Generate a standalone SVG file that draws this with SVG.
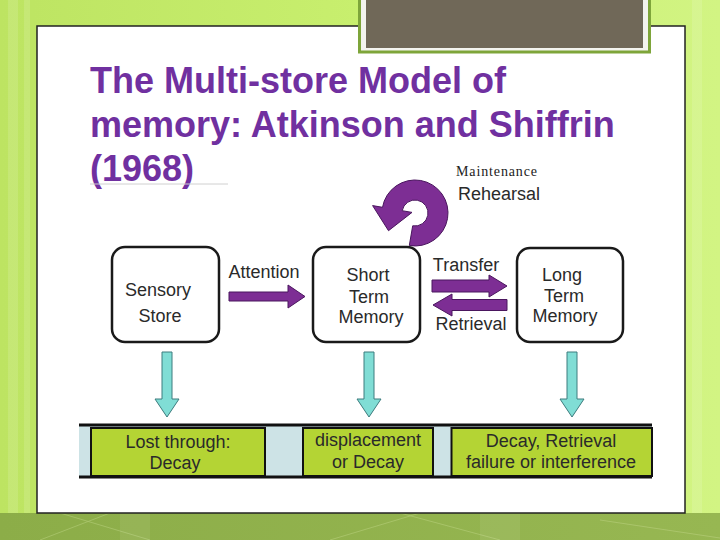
<svg xmlns="http://www.w3.org/2000/svg" width="720" height="540" viewBox="0 0 720 540">
<defs>
<linearGradient id="bg" x1="0" y1="0" x2="1" y2="0">
<stop offset="0" stop-color="#bde462"/>
<stop offset="0.5" stop-color="#c8ef6e"/>
<stop offset="1" stop-color="#d2f483"/>
</linearGradient>
<linearGradient id="band" x1="0" y1="0" x2="1" y2="0">
<stop offset="0" stop-color="#8cad48"/>
<stop offset="1" stop-color="#97b752"/>
</linearGradient>
<style>
.title{font-family:"Liberation Sans",Arial,sans-serif;font-weight:bold;font-size:36px;fill:#7030a0}
.hand{font-family:"Liberation Sans",Arial,sans-serif;font-size:18px;fill:#2a2a2a;text-anchor:middle}
.node{fill:#fff;stroke:#1a1a1a;stroke-width:2.5}
.parr{fill:#7d2e94;stroke:#4a165e;stroke-width:1}
.carr{fill:#80ddd5;stroke:#3d7c7e;stroke-width:1}
.loss{fill:#b4d434;stroke:#111;stroke-width:2}
</style>
</defs>
<rect x="0" y="0" width="720" height="540" fill="url(#bg)"/>
<g fill="#ffffff" opacity="0.12">
<rect x="8" y="0" width="10" height="540"/>
<rect x="24" y="0" width="6" height="540"/>
<rect x="692" y="0" width="10" height="540"/>
</g>
<rect x="0" y="513" width="720" height="27" fill="url(#band)"/>
<g stroke="#c8dd90" stroke-width="0.8" opacity="0.5" fill="none">
<line x1="40" y1="540" x2="110" y2="513"/>
<line x1="60" y1="513" x2="150" y2="540"/>
<line x1="330" y1="540" x2="420" y2="513"/>
<line x1="400" y1="513" x2="500" y2="540"/>
<line x1="600" y1="520" x2="720" y2="538"/>
</g>
<g fill="#ffffff" opacity="0.07">
<rect x="120" y="513" width="30" height="27"/>
<rect x="480" y="513" width="40" height="27"/>
</g>
<rect x="37" y="26" width="648" height="487" fill="#ffffff" stroke="#222" stroke-width="1.5"/>
<g id="header-block">
<rect x="359.5" y="-5" width="290" height="57" fill="#f3f3ee" stroke="#7ea53a" stroke-width="3"/>
<rect x="366" y="0" width="277" height="48" fill="#706858"/>
</g>
<g id="title">
<text class="title" x="90" y="93">The Multi-store Model of</text>
<text class="title" x="90" y="137">memory: Atkinson and Shiffrin</text>
<text class="title" x="90" y="181">(1968)</text>
<line x1="90" y1="184" x2="228" y2="184" stroke="#d0d0d0" stroke-width="1"/>
</g>
<g id="connectors">
<path id="rehearsal-loop" class="parr" d="M409.3,245.5 A33,33 0 1 0 382.5,207.3 L372.6,205.6 L388.5,230.7 L412,212.4 L402.2,210.7 A13,13 0 1 1 412.7,225.8 Z"/>
<path id="attention-arrow" class="parr" d="M229,292 L288,292 L288,285 L305,296.5 L288,308 L288,301 L229,301 Z"/>
<path id="transfer-arrow" class="parr" d="M432,280 L489,280 L489,275 L507,286 L489,297 L489,292 L432,292 Z"/>
<path id="retrieval-arrow" class="parr" d="M507,299.5 L452,299.5 L452,294 L433,305 L452,316 L452,310.5 L507,310.5 Z"/>
<path id="down-1" class="carr" d="M162,352 L172,352 L172,399 L179,399 L167,417 L155,399 L162,399 Z"/>
<path id="down-2" class="carr" d="M364,352 L374,352 L374,399 L381,399 L369,417 L357,399 L364,399 Z"/>
<path id="down-3" class="carr" d="M567,352 L577,352 L577,399 L584,399 L572,417 L560,399 L567,399 Z"/>
</g>
<g id="connector-labels">
<text x="456" y="176" textLength="81" style="font-family:'Liberation Serif','Times New Roman',serif;font-size:14px;fill:#222">Maintenance</text>
<text class="hand" x="499" y="200">Rehearsal</text>
<text class="hand" x="264" y="278">Attention</text>
<text class="hand" x="466" y="271">Transfer</text>
<text class="hand" x="471" y="330">Retrieval</text>
</g>
<g id="sensory-store">
<rect class="node" x="112" y="247" width="107" height="95" rx="13"/>
<text class="hand" x="158" y="296">Sensory</text>
<text class="hand" x="160" y="322">Store</text>
</g>
<g id="short-term-memory">
<rect class="node" x="313" y="247" width="107" height="95" rx="13"/>
<text class="hand" x="368" y="281">Short</text>
<text class="hand" x="369" y="303">Term</text>
<text class="hand" x="371" y="323">Memory</text>
</g>
<g id="long-term-memory">
<rect class="node" x="517" y="248" width="106" height="94" rx="13"/>
<text class="hand" x="562" y="281">Long</text>
<text class="hand" x="564" y="302">Term</text>
<text class="hand" x="565" y="322">Memory</text>
</g>
<g id="loss-bar">
<rect x="79" y="425" width="573" height="52" fill="#cde3e6"/>
<line x1="79" y1="425" x2="652" y2="425" stroke="#111" stroke-width="3"/>
<line x1="79" y1="477" x2="652" y2="477" stroke="#111" stroke-width="3"/>
</g>
<g id="loss-sensory">
<rect class="loss" x="91" y="428" width="174" height="48"/>
<text class="hand" x="178" y="448">Lost through:</text>
<text class="hand" x="175" y="469">Decay</text>
</g>
<g id="loss-stm">
<rect class="loss" x="303" y="428" width="130" height="48"/>
<text class="hand" x="368" y="446">displacement</text>
<text class="hand" x="368" y="468">or Decay</text>
</g>
<g id="loss-ltm">
<rect class="loss" x="451.5" y="428" width="200.5" height="48"/>
<text class="hand" x="551" y="447">Decay, Retrieval</text>
<text class="hand" x="551" y="468">failure or interference</text>
</g>
</svg>
